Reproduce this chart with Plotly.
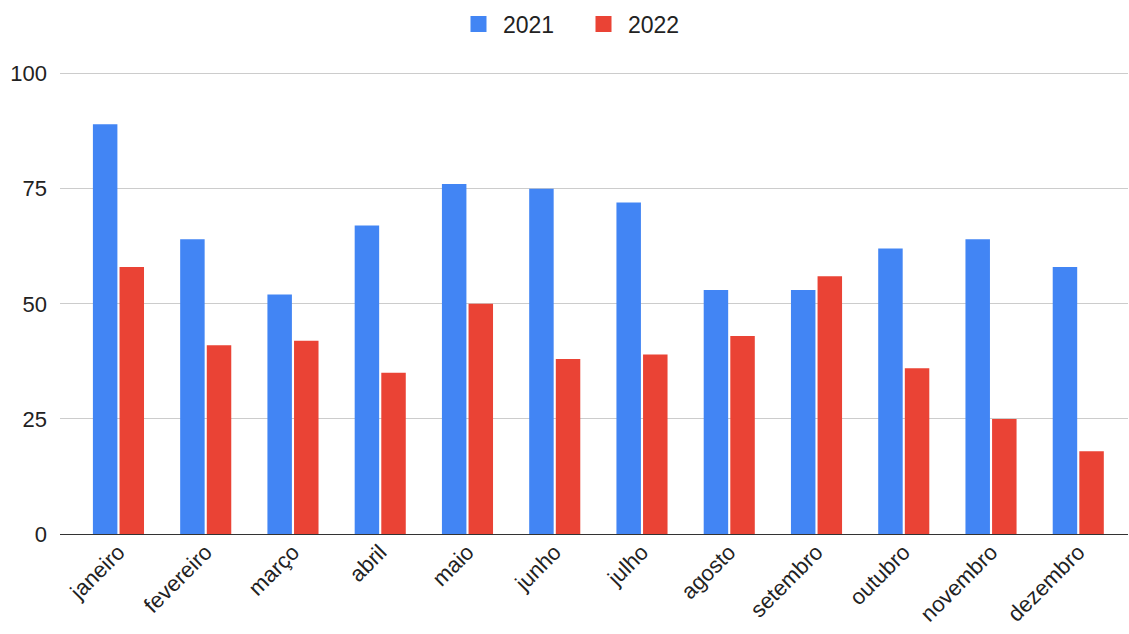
import plotly.graph_objects as go

months = ["janeiro", "fevereiro", "março", "abril", "maio", "junho",
          "julho", "agosto", "setembro", "outubro", "novembro", "dezembro"]
v2021 = [89, 64, 52, 67, 76, 75, 72, 53, 53, 62, 64, 58]
v2022 = [58, 41, 42, 35, 50, 38, 39, 43, 56, 36, 25, 18]
yticks = [0, 25, 50, 75, 100]
series = [("2021", v2021, "#4285F4"), ("2022", v2022, "#EA4335")]

fig = go.Figure()
xs = list(range(len(months)))
for name, vals, col in series:
    fig.add_trace(go.Bar(x=xs, y=vals, name=name, showlegend=False,
                         marker=dict(color=col, line=dict(width=0))))
for name, vals, col in series:
    fig.add_trace(go.Scatter(x=[None], y=[None], name=name, mode="markers",
                             marker=dict(symbol="square", size=24, color=col)))

W, H = 1129, 634
fig.update_layout(
    width=W, height=H,
    margin=dict(l=60, r=1, t=69, b=100),
    paper_bgcolor="white", plot_bgcolor="white",
    font=dict(family="Liberation Sans, Arial, sans-serif", size=22, color="#222222"),
    barmode="group", bargap=0.39, bargroupgap=0.08,
    legend=dict(orientation="h", x=(454 - 60) / 1068, xanchor="left",
                y=1 + 45 / 465, yanchor="middle",
                font=dict(size=23, color="#222222"), itemwidth=39,
                entrywidth=71, entrywidthmode="pixels"),
    xaxis=dict(tickmode="array", tickvals=xs, ticktext=months,
               tickangle=-45, range=[-0.67, 11.57], showgrid=False, ticks="",
               showline=False, zeroline=False),
    yaxis=dict(range=[0, 101], tickvals=yticks, showgrid=True, gridcolor="#cccccc",
               gridwidth=1, zeroline=True, zerolinecolor="#333333", zerolinewidth=1,
               ticks="", ticklabelstandoff=12),
)
fig.write_html("out.html")
